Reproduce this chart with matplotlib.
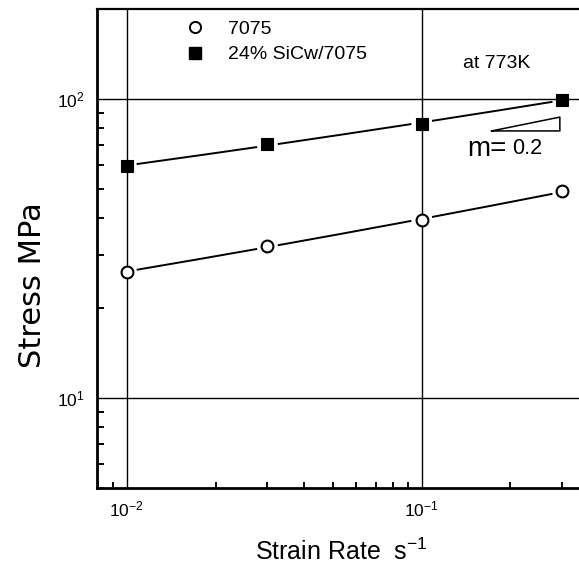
import numpy as np
import matplotlib
matplotlib.use('Agg')
import matplotlib.pyplot as plt
from matplotlib.lines import Line2D
from matplotlib.ticker import LogLocator, LogFormatterSciNotation, NullFormatter

# ---- data ----
strain_rate = [0.01, 0.03, 0.1, 0.3]
stress_7075 = [26.4, 32.3, 39.3, 49.1]
stress_sicw = [59.7, 70.7, 82.5, 99.5]
series_labels = ['7075', '24% SiCw/7075']
x_label = 'Strain Rate  s$^{-1}$'
y_label = 'Stress MPa'
temp_label = 'at 773K'
slope_m = 0.2

plt.rcParams['font.family'] = ['Liberation Sans', 'DejaVu Sans']
plt.rcParams['mathtext.fontset'] = 'custom'
plt.rcParams['mathtext.rm'] = 'Liberation Sans'
plt.rcParams['mathtext.it'] = 'Liberation Sans:italic'
plt.rcParams['mathtext.default'] = 'regular'
plt.rcParams['axes.unicode_minus'] = False

W, H = 579, 566
L, R, B, T = 97, 585, 488, 9
fig = plt.figure(figsize=(W / 100, H / 100), dpi=100)
ax = fig.add_axes([L / W, (H - B) / H, (R - L) / W, (B - T) / H])
ax.set_xscale('log')
ax.set_yscale('log')
ax.set_xlim(10 ** -2.1007, 10 ** -0.4464)
ax.set_ylim(5, 200)


def fitted(xs, ys):
    lx = np.log10(xs)
    ly = np.log10(ys)
    c = np.polyfit(lx, ly, 2)
    t = np.linspace(lx[0], lx[-1], 600)
    yy = 10 ** np.polyval(c, t)
    gap = 0.036
    mask = np.min(np.abs(t[:, None] - lx[None, :]), axis=1) < gap
    yy = np.where(mask, np.nan, yy)
    return 10 ** t, yy


for ys in (stress_7075, stress_sicw):
    fx, fy = fitted(strain_rate, ys)
    ax.plot(fx, fy, color='black', lw=1.4, zorder=3)

ax.plot(strain_rate, stress_7075, linestyle='none', marker='o', ms=8.5,
        mfc='white', mec='black', mew=1.5, zorder=4)
ax.plot(strain_rate, stress_sicw, linestyle='none', marker='s', ms=8.5,
        mfc='black', mec='black', mew=0.8, zorder=4)

# grid & ticks
ax.grid(which='major', color='black', lw=1.0)
ax.xaxis.set_major_locator(LogLocator(base=10))
ax.xaxis.set_minor_locator(LogLocator(base=10, subs=np.arange(2, 10)))
ax.yaxis.set_major_locator(LogLocator(base=10))
ax.yaxis.set_minor_locator(LogLocator(base=10, subs=np.arange(2, 10)))
ax.xaxis.set_major_formatter(LogFormatterSciNotation())
ax.yaxis.set_major_formatter(LogFormatterSciNotation())
ax.xaxis.set_minor_formatter(NullFormatter())
ax.yaxis.set_minor_formatter(NullFormatter())
ax.tick_params(which='both', direction='in', top=False, right=False,
               labelsize=12.5)
ax.tick_params(which='major', length=0)
ax.tick_params(axis='x', which='minor', length=4, width=1.4)
ax.tick_params(axis='y', which='minor', length=5, width=1.4)
ax.tick_params(axis='x', which='major', pad=8)
ax.tick_params(axis='y', which='major', pad=9)

for side, w in (('left', 2.0), ('bottom', 2.0), ('top', 1.6), ('right', 1.6)):
    ax.spines[side].set_linewidth(w)

ax.set_xlabel(x_label, fontsize=18, va='center')
ax.xaxis.set_label_coords(0.5, (B - 552) / (B - T))
ax.set_ylabel(y_label, fontsize=22, family='DejaVu Sans', va='center')
ax.yaxis.set_label_coords((33 - L) / (R - L), (B - 285) / (B - T))

# legend
handles = [Line2D([], [], linestyle='none', marker='o', ms=8, mfc='white',
                  mec='black', mew=1.4),
           Line2D([], [], linestyle='none', marker='s', ms=8, mfc='black',
                  mec='black')]
ax.legend(handles, series_labels, loc='upper left',
          bbox_to_anchor=((183.5 - L) / (R - L), (B - 20) / (B - T)),
          frameon=False, fontsize=14, borderpad=0, borderaxespad=0,
          handletextpad=1.1, labelspacing=0.42, handlelength=1.2)

ax.text((497 - L) / (R - L), (B - 63) / (B - T), temp_label,
        transform=ax.transAxes, fontsize=14, ha='center', va='center')

# slope triangle
x0, x1 = 0.1726, 0.294
y0 = 78.2
y1 = y0 * (x1 / x0) ** slope_m
ax.plot([x0, x1, x1, x0], [y0, y0, y1, y0], color='black', lw=1.1, zorder=3)
ax.text((467 - L) / (R - L), (B - 149) / (B - T), 'm=',
        transform=ax.transAxes, fontsize=20, ha='left', va='center')
ax.text((512 - L) / (R - L), (B - 148) / (B - T), '%.1f' % slope_m,
        transform=ax.transAxes, fontsize=15.5, ha='left', va='center')

fig.savefig('out.png', dpi=100)
